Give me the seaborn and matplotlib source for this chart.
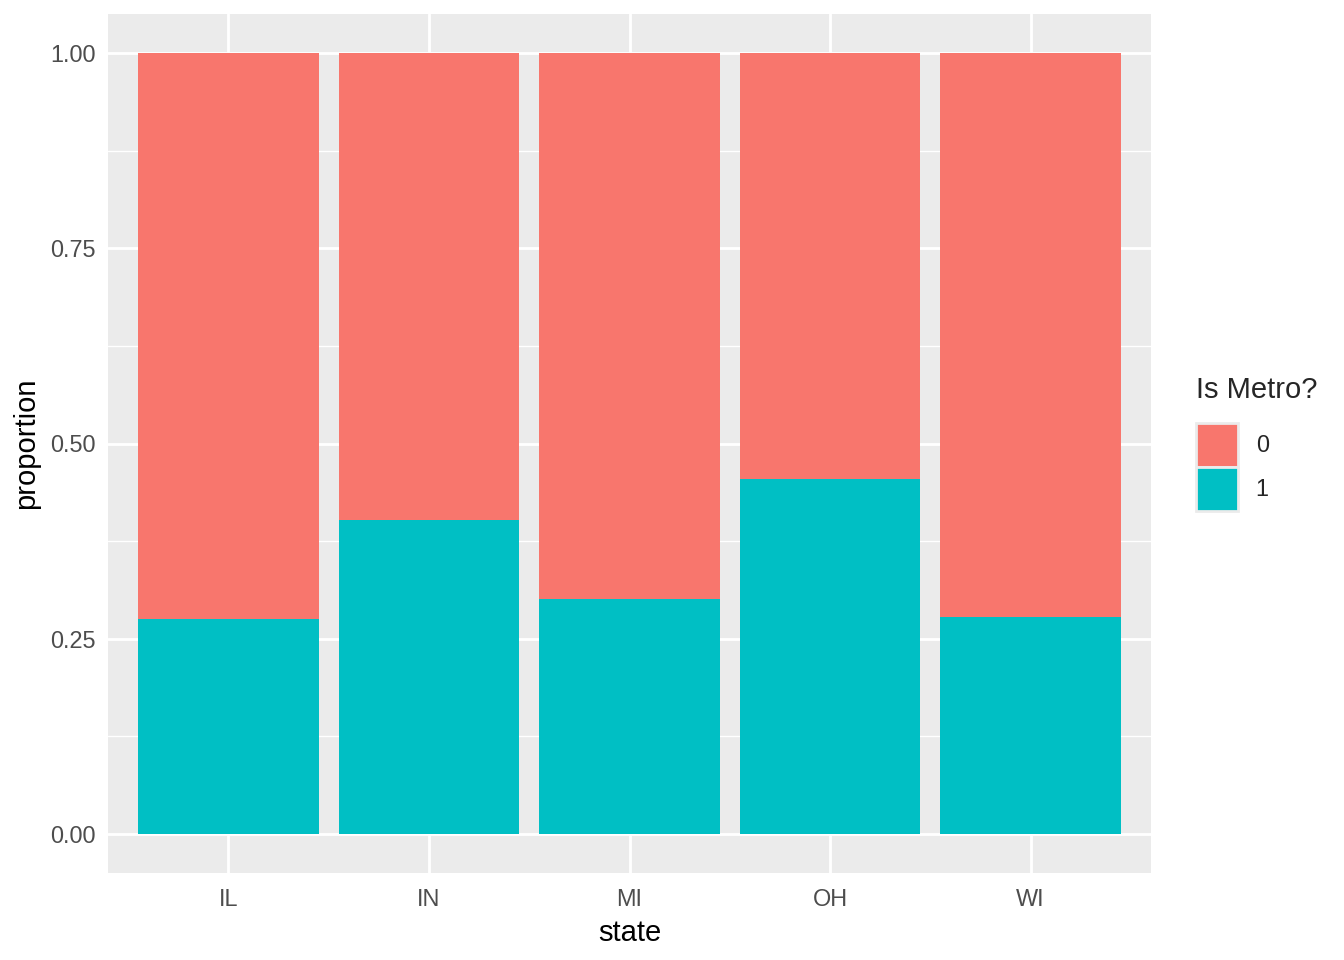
import matplotlib
matplotlib.use("Agg")
import matplotlib.pyplot as plt
from matplotlib.patches import Patch
import pandas as pd
import seaborn as sns

# proportion of metro counties per state
states = ["IL", "IN", "MI", "OH", "WI"]
metro_prop = [0.275, 0.402, 0.301, 0.455, 0.278]
nonmetro_prop = [1 - p for p in metro_prop]
legend_labels = ["0", "1"]
y_ticks = [0.00, 0.25, 0.50, 0.75, 1.00]

df = pd.DataFrame({"state": states, "metro": metro_prop, "nonmetro": nonmetro_prop})
df["total"] = df["metro"] + df["nonmetro"]

red = "#F8766D"
teal = "#00BFC4"

sns.set_theme(style="darkgrid")
plt.rcParams["font.family"] = ["Liberation Sans", "DejaVu Sans"]

fig = plt.figure(figsize=(13.44, 9.6), dpi=100)
ax = fig.add_axes([108 / 1344, 87 / 960, (1151 - 108) / 1344, (873 - 14) / 960])
ax.set_facecolor("#EBEBEB")

# stacked: full bar (non-metro on top) then metro bar at the bottom
sns.barplot(data=df, x="state", y="total", color=red, width=0.9, saturation=1, ax=ax, zorder=2)
sns.barplot(data=df, x="state", y="metro", color=teal, width=0.9, saturation=1, ax=ax, zorder=3)
for p in ax.patches:
    p.set_linewidth(0)

ax.set_xlim(-0.6, 4.6)
ax.set_ylim(-0.05, 1.05)
ax.set_yticks(y_ticks)
ax.set_yticklabels([f"{v:.2f}" for v in y_ticks])
ax.set_yticks([0.125, 0.375, 0.625, 0.875], minor=True)

ax.grid(which="major", color="white", linewidth=2.05, zorder=0)
ax.grid(which="minor", axis="y", color="white", linewidth=1.0, zorder=0)
ax.grid(which="minor", axis="x", visible=False)
ax.set_axisbelow(True)
for s in ax.spines.values():
    s.set_visible(False)

ax.tick_params(axis="both", which="major", length=5.3, width=1.8, color="#333333",
               labelsize=16.9, labelcolor="#4D4D4D", pad=3.5)
ax.tick_params(axis="x", which="major", pad=5.5)
ax.tick_params(axis="both", which="minor", length=0)
ax.set_xlabel("state", fontsize=21, color="black", labelpad=6)
ax.set_ylabel("proportion", fontsize=21, color="black", labelpad=7)

handles = [Patch(facecolor=red, edgecolor="#EBEBEB", linewidth=2),
           Patch(facecolor=teal, edgecolor="#EBEBEB", linewidth=2)]
leg = ax.legend(handles, legend_labels, title="Is Metro?", loc="center left",
                bbox_to_anchor=(1.043, 0.5), frameon=False, fontsize=16.9,
                title_fontsize=21, handlelength=1.8, handleheight=2.5,
                labelspacing=0.0, handletextpad=0.75, borderaxespad=0, borderpad=0)
leg._legend_box.align = "left"
leg._legend_box.sep = 14

fig.savefig("out.png", dpi=100)
plt.close(fig)
